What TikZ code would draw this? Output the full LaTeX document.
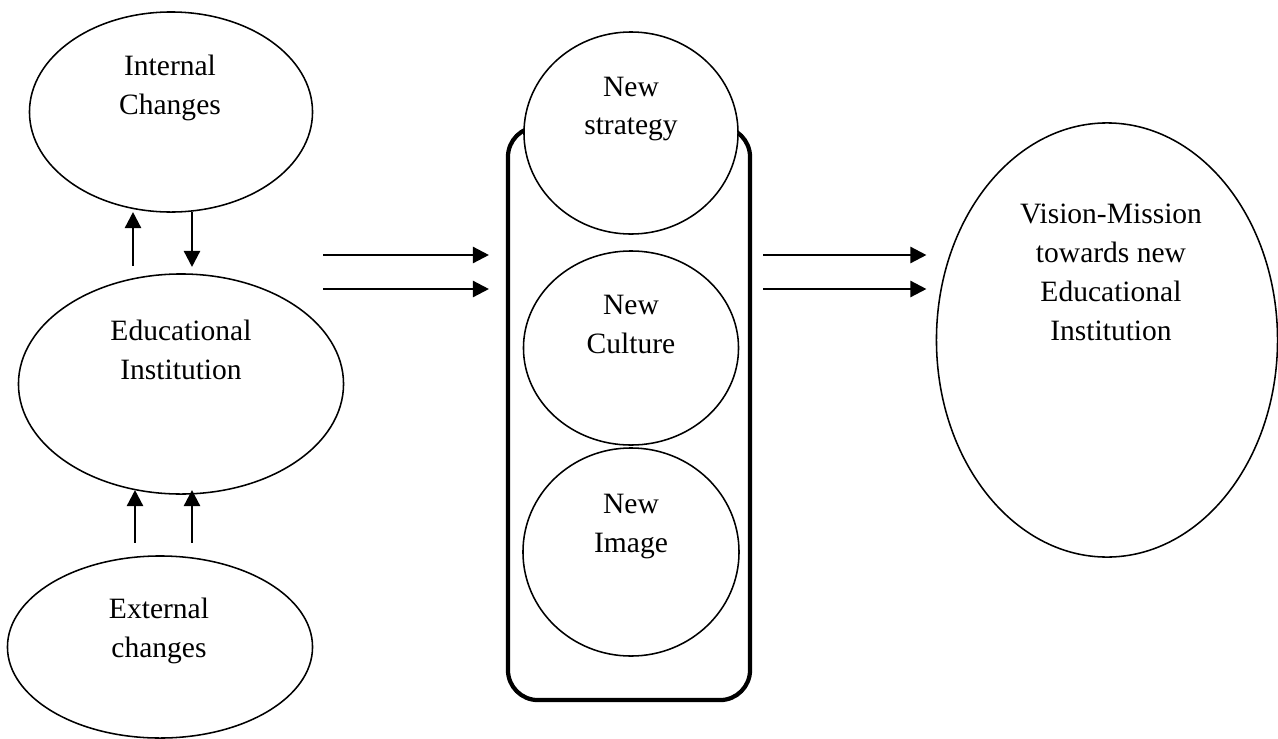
\documentclass[tikz,border=0pt]{standalone}
\usepackage{fontspec}
\setmainfont{Liberation Serif}
\usetikzlibrary{shapes.geometric,arrows.meta}

\begin{document}
\begin{tikzpicture}[x=0.025cm,y=-0.025cm,
    bubble/.style={ellipse,draw=black,line width=1.1pt,fill=white,inner sep=0pt,outer sep=0pt},
    txt/.style={align=center,inner sep=0pt,font=\fontsize{21pt}{27.7pt}\selectfont},
    arr/.style={-{Triangle[length=0.4cm,width=0.4cm]},line width=1.7pt}]
    \useasboundingbox (0,0) rectangle (1278,738);
    % left column
    \node[bubble,minimum width=7.075cm,minimum height=5cm] (intern) at (171,112) {};
    \node[bubble,minimum width=8.125cm,minimum height=5.5cm] (edu) at (181,384) {};
    \node[bubble,minimum width=7.625cm,minimum height=4.55cm] (extern) at (160,647) {};
    \node[txt] (intern-t) at (170,88) {Internal\\Changes};
    \node[txt] (edu-t) at (181,350) {Educational\\Institution};
    \node[txt] (extern-t) at (159,631) {External\\changes};
    % middle column
    \node[draw=black,line width=3pt,rounded corners=0.75cm,minimum width=6.05cm,minimum height=14.325cm,outer sep=0pt] (frame) at (629,413.5) {};
    \node[bubble,minimum width=5.35cm,minimum height=5.05cm] (strat) at (631,133) {};
    \node[bubble,minimum width=5.375cm,minimum height=4.85cm] (culture) at (631,348) {};
    \node[bubble,minimum width=5.4cm,minimum height=5.2cm] (image) at (631,552) {};
    \node[txt] (strat-t) at (631,109) {New\\strategy};
    \node[txt] (culture-t) at (631,324.5) {New\\Culture};
    \node[txt] (image-t) at (631,526.5) {New\\Image};
    % right column
    \node[bubble,minimum width=8.525cm,minimum height=10.85cm] (vision) at (1107,340) {};
    \node[txt] (vision-t) at (1111,272) {Vision-Mission\\towards new\\Educational\\Institution};
    % arrows
    \draw[arr, shorten <=0.2cm] (edu.north -| 133,0) -- (intern.south -| 133,0);
    \draw[arr, shorten >=0.175cm] (intern.south -| 192,0) -- (edu.north -| 192,0);
    \draw[arr, shorten <=0.325cm, shorten >=-0.1cm] (extern.north -| 135,0) -- (edu.south -| 135,0);
    \draw[arr, shorten <=0.325cm, shorten >=-0.1cm] (extern.north -| 192,0) -- (edu.south -| 192,0);
    \coordinate (in1) at (323,255);
    \coordinate (in2) at (323,289);
    \draw[arr, shorten >=0.475cm] (in1) -- (frame.west |- in1);
    \draw[arr, shorten >=0.475cm] (in2) -- (frame.west |- in2);
    \draw[arr, shorten <=0.325cm, shorten >=0.25cm] (frame.east |- in1) -- (vision.west |- in1);
    \draw[arr, shorten <=0.325cm, shorten >=0.25cm] (frame.east |- in2) -- (vision.west |- in2);
\end{tikzpicture}
\end{document}
